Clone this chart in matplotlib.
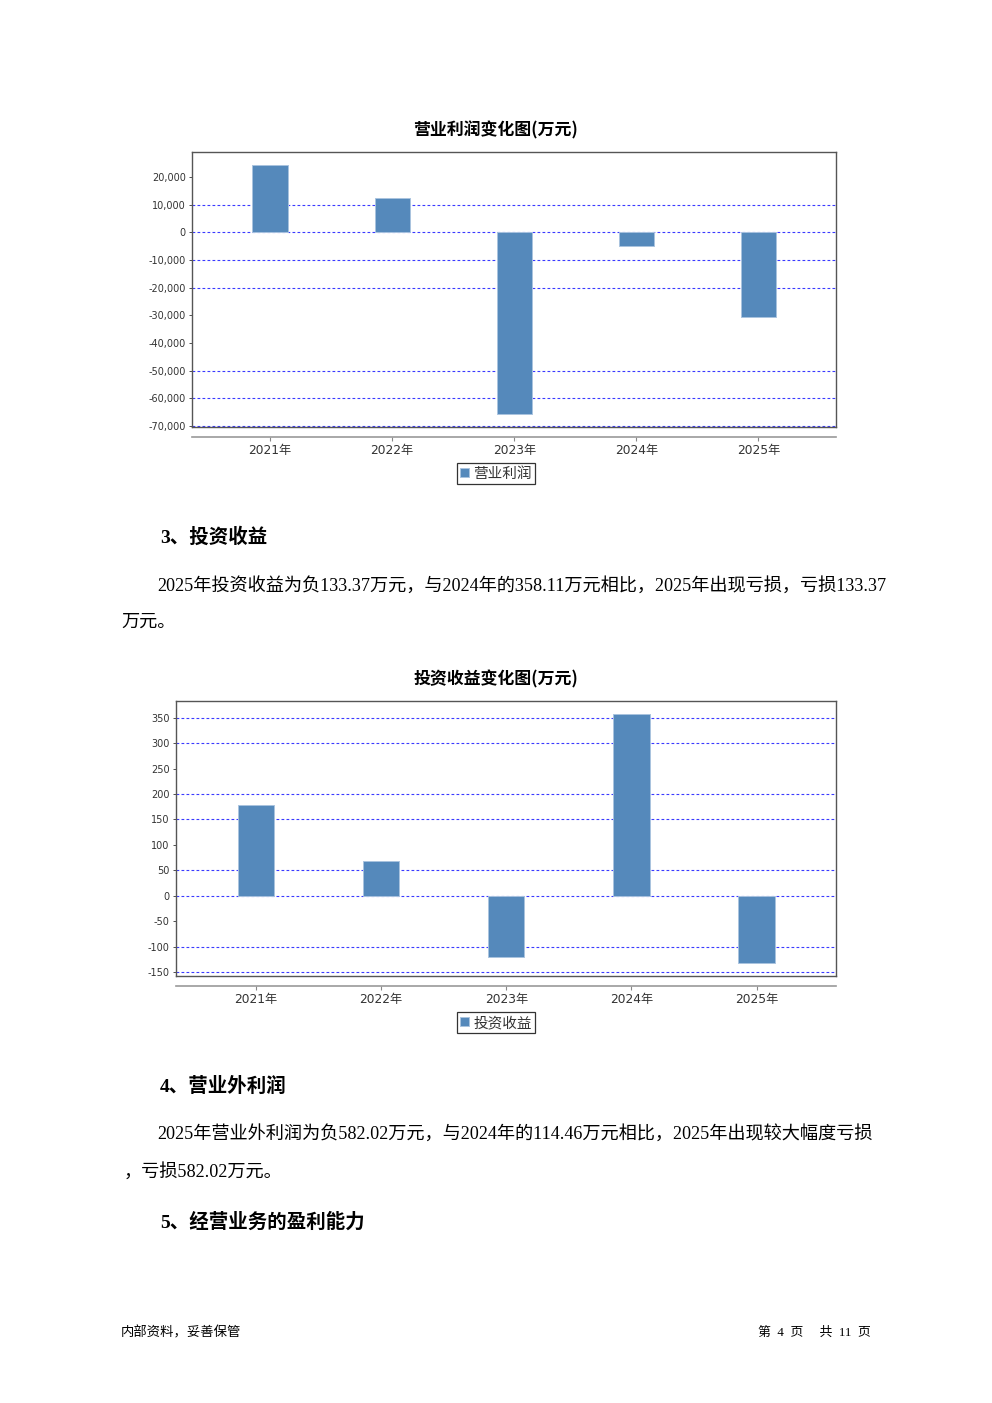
import matplotlib
matplotlib.use('Agg')
import matplotlib.pyplot as plt
from matplotlib.ticker import FuncFormatter

plt.rcParams['font.family'] = ['DejaVu Sans', 'Noto Sans CJK SC']

# data
years = ['2021年', '2022年', '2023年', '2024年', '2025年']
op_profit = [24300, 12400, -65700, -4950, -30700]
inv_income = [179, 69, -120, 358.11, -133.37]

op_ticks = [20000, 10000, 0, -10000, -20000, -30000, -40000, -50000, -60000, -70000]
op_grid = [10000, 0, -10000, -20000, -50000, -60000, -70000]
inv_ticks = [350, 300, 250, 200, 150, 100, 50, 0, -50, -100, -150]
inv_grid = [350, 300, 200, 150, 50, 0, -100, -150]

W, H = 992, 1403
fig = plt.figure(figsize=(W / 100, H / 100), dpi=100)
fig.patch.set_facecolor('white')

serif = ['Liberation Serif', 'Noto Sans CJK SC']
bar_color = '#5589bb'


def px(x, y):
    return x / W, 1 - y / H


def draw_chart(left, top, right, bottom, vals, ticks, grid, ylim, title, label, fmt):
    ax = fig.add_axes([left / W, 1 - bottom / H, (right - left) / W, (bottom - top) / H])
    xs = list(range(len(years)))
    for g in grid:
        ax.axhline(g, color='#3a3aff', lw=0.8, ls=(0, (2.5, 2)), zorder=1)
    bars = ax.bar(xs, vals, width=0.29, color=bar_color, edgecolor='#a9c3df',
                  linewidth=0.7, zorder=2, label=label)
    ax.set_xlim(-0.64, len(years) - 1 + 0.635)
    ax.set_ylim(*ylim)
    ax.set_yticks(ticks)
    ax.yaxis.set_major_formatter(FuncFormatter(fmt))
    ax.tick_params(axis='y', labelsize=7, length=2.5, width=0.6, pad=2, colors='#333333')
    ax.set_xticks([])
    for s in ax.spines.values():
        s.set_color('#555555')
        s.set_linewidth(1.0)
    # category axis drawn slightly below the plot box
    sec = ax.secondary_xaxis(-10 / (bottom - top))
    sec.set_xticks(xs)
    sec.set_xticklabels(years)
    sec.tick_params(axis='x', labelsize=8.8, length=3, width=0.8, color='#888888',
                    labelcolor='#333333', pad=2)
    sec.spines['bottom'].set_color('#999999')
    sec.spines['bottom'].set_linewidth(1.2)
    fig.text(*px(496, top - 22), title, ha='center', va='center', fontsize=12.2,
             fontweight='bold', family=['Noto Sans CJK SC'])
    leg = ax.legend(handles=[bars], loc='center', bbox_to_anchor=px(496, bottom + 46.5),
                    bbox_transform=fig.transFigure, fontsize=10.5, frameon=True,
                    fancybox=False, handlelength=0.6, handleheight=0.6,
                    handletextpad=0.3, borderpad=0.2, borderaxespad=0)
    leg.get_frame().set_edgecolor('black')
    leg.get_frame().set_linewidth(0.9)
    for t in leg.get_texts():
        t.set_color('#333333')
    return ax


draw_chart(192, 152, 836, 427, op_profit, op_ticks, op_grid, (-70400, 29000),
           '营业利润变化图(万元)', '营业利润', lambda v, p: f'{int(v):,}')
draw_chart(176, 701, 836, 976, inv_income, inv_ticks, inv_grid, (-158, 383),
           '投资收益变化图(万元)', '投资收益', lambda v, p: f'{int(v)}')

# document text
fig.text(*px(160, 537), '3、投资收益', ha='left', va='center', fontsize=14,
         fontweight='bold', family=serif)
fig.text(*px(157, 586), '2025年投资收益为负133.37万元，与2024年的358.11万元相比，2025年出现亏损，亏损133.37',
         ha='left', va='center', fontsize=13.1, family=serif)
fig.text(*px(121, 622), '万元。', ha='left', va='center', fontsize=13.1, family=serif)

fig.text(*px(160, 1086), '4、营业外利润', ha='left', va='center', fontsize=14,
         fontweight='bold', family=serif)
fig.text(*px(157, 1134), '2025年营业外利润为负582.02万元，与2024年的114.46万元相比，2025年出现较大幅度亏损',
         ha='left', va='center', fontsize=13.1, family=serif)
fig.text(*px(124, 1172), '，亏损582.02万元。', ha='left', va='center', fontsize=13.1, family=serif)

fig.text(*px(160, 1222), '5、经营业务的盈利能力', ha='left', va='center', fontsize=14,
         fontweight='bold', family=serif)

fig.text(*px(121, 1333), '内部资料，妥善保管', ha='left', va='center', fontsize=9.6, family=serif)
fig.text(*px(871, 1333), '第  4  页     共  11  页', ha='right', va='center', fontsize=9.3, family=serif)

fig.savefig('out.png', dpi=100, facecolor='white')
